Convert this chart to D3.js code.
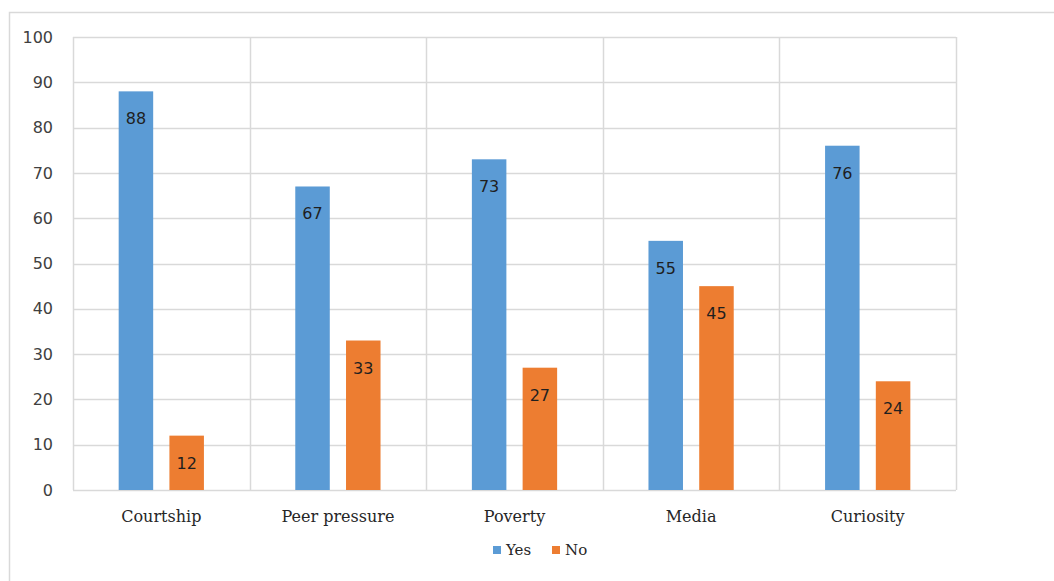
<!DOCTYPE html>
<html><head><meta charset="utf-8">
<script src="https://cdn.jsdelivr.net/npm/d3@7"></script>
<style>
html,body{margin:0;padding:0;background:#fff;}
svg{display:block;}
</style></head>
<body>
<svg id="chart" width="1054" height="581"></svg>
<script>
const categories = ["Courtship","Peer pressure","Poverty","Media","Curiosity"];
const seriesNames = ["Yes","No"];
const yesValues = [88,67,73,55,76];
const noValues = [12,33,27,45,24];
const yTicks = [0,10,20,30,40,50,60,70,80,90,100];
const colors = ["#5B9BD5","#ED7D31"];

const svg = d3.select("#chart");
const W = 1054, H = 581;
const plot = {left:73, right:956, top:37, bottom:490};

// outer chart frame (clipped by window)
svg.append("path").attr("d", `M9.5,${H} L9.5,12.5 L${W},12.5`)
  .attr("fill","none").attr("stroke","#d9d9d9").attr("stroke-width",1.5);

const x0 = d3.scaleBand().domain(categories).range([plot.left, plot.right]).paddingInner(0).paddingOuter(0);
const x1 = d3.scaleBand().domain(seriesNames).range([0, x0.bandwidth()]).paddingInner(0.32).paddingOuter(0.9);
const y = d3.scaleLinear().domain([0,100]).range([plot.bottom, plot.top]);

// horizontal grid
svg.append("g").selectAll("line").data(yTicks).join("line")
  .attr("x1", plot.left).attr("x2", plot.right)
  .attr("y1", d=>Math.round(y(d))+0.5).attr("y2", d=>Math.round(y(d))+0.5)
  .attr("stroke","#d9d9d9").attr("stroke-width",1.5);
// vertical grid
const vLines = categories.map(c=>x0(c)).concat([plot.right]);
svg.append("g").selectAll("line").data(vLines).join("line")
  .attr("x1", d=>Math.round(d)+0.5).attr("x2", d=>Math.round(d)+0.5)
  .attr("y1", plot.top).attr("y2", plot.bottom)
  .attr("stroke","#d9d9d9").attr("stroke-width",1.5);

// y axis labels
const yAxis = d3.axisLeft(y).tickValues(yTicks).tickSize(0).tickPadding(0);
const ya = svg.append("g").attr("transform","translate(53,0)").call(yAxis);
ya.select(".domain").remove();
ya.selectAll("text").attr("font-family","DejaVu Sans, Verdana, sans-serif").attr("font-size","16px").attr("fill","#404040");

// bars
const data = categories.map((c,i)=>({cat:c, vals:[{s:"Yes",v:yesValues[i]},{s:"No",v:noValues[i]}]}));
const groups = svg.append("g").selectAll("g").data(data).join("g")
  .attr("transform", d=>`translate(${x0(d.cat)},0)`);
groups.selectAll("rect").data(d=>d.vals).join("rect")
  .attr("x", d=>x1(d.s)).attr("width", x1.bandwidth())
  .attr("y", d=>y(d.v)).attr("height", d=>y(0)-y(d.v))
  .attr("fill", (d,i)=>colors[i]);
groups.selectAll("text").data(d=>d.vals).join("text")
  .attr("x", d=>x1(d.s)+x1.bandwidth()/2)
  .attr("y", d=>y(d.v)+33)
  .attr("text-anchor","middle")
  .attr("font-family","DejaVu Sans, Verdana, sans-serif").attr("font-size","16px")
  .attr("fill","#1f1f1f")
  .text(d=>d.v);

// x axis labels
const xAxis = d3.axisBottom(x0).tickSize(0).tickPadding(0);
const xa = svg.append("g").attr("transform",`translate(0,${plot.bottom+32})`).call(xAxis);
xa.select(".domain").remove();
xa.selectAll("text").attr("font-family","DejaVu Serif, serif").attr("font-size","16px").attr("fill","#262626").attr("dy","0");

// legend
const legend = svg.append("g");
const legItems = [{name:"Yes",x:493},{name:"No",x:552}];
legItems.forEach((it,i)=>{
  legend.append("rect").attr("x",it.x).attr("y",546).attr("width",8).attr("height",8).attr("fill",colors[i]);
  legend.append("text").attr("x",it.x+13).attr("y",555)
    .attr("font-family","DejaVu Serif, serif").attr("font-size","15px").attr("fill","#262626").text(it.name);
});
</script>
</body></html>
